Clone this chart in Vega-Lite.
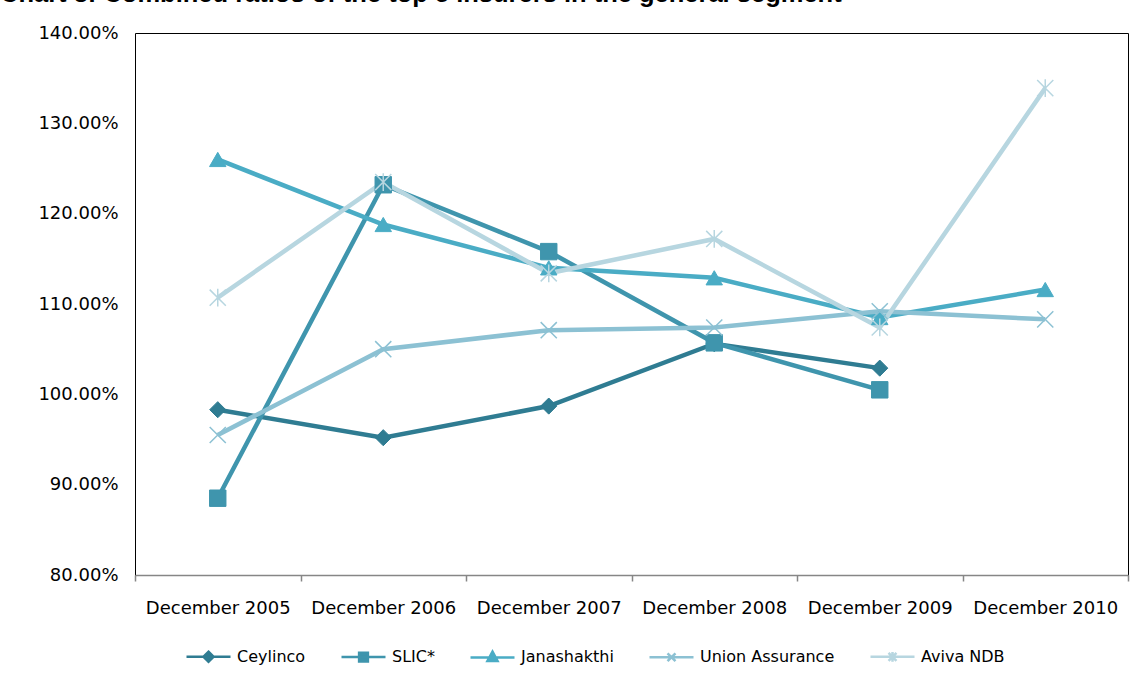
{
  "$schema": "https://vega.github.io/schema/vega-lite/v6.json",
  "width": 993,
  "height": 542,
  "autosize": {"type": "none"},
  "padding": {"left": 135, "top": 33, "right": 16, "bottom": 104},
  "background": "#ffffff",
  "title": {
    "text": "Chart 3: Combined ratios of the top 5 insurers in the general segment",
    "font": "Liberation Sans",
    "fontSize": 25.5,
    "fontWeight": "bold",
    "color": "#000000",
    "anchor": "start",
    "frame": "group",
    "dx": -135,
    "dy": 23,
    "baseline": "alphabetic",
    "offset": 20
  },
  "config": {
    "view": {"stroke": "#000000", "strokeWidth": 1}
  },
  "data": {
    "values": [
      {"year": "December 2005", "series": "Ceylinco", "value": 98.3},
      {"year": "December 2006", "series": "Ceylinco", "value": 95.2},
      {"year": "December 2007", "series": "Ceylinco", "value": 98.7},
      {"year": "December 2008", "series": "Ceylinco", "value": 105.6},
      {"year": "December 2009", "series": "Ceylinco", "value": 102.9},
      {"year": "December 2005", "series": "SLIC*", "value": 88.5},
      {"year": "December 2006", "series": "SLIC*", "value": 123.2},
      {"year": "December 2007", "series": "SLIC*", "value": 115.8},
      {"year": "December 2008", "series": "SLIC*", "value": 105.7},
      {"year": "December 2009", "series": "SLIC*", "value": 100.5},
      {"year": "December 2005", "series": "Janashakthi", "value": 126.0},
      {"year": "December 2006", "series": "Janashakthi", "value": 118.8},
      {"year": "December 2007", "series": "Janashakthi", "value": 114.0},
      {"year": "December 2008", "series": "Janashakthi", "value": 112.9},
      {"year": "December 2009", "series": "Janashakthi", "value": 108.5},
      {"year": "December 2010", "series": "Janashakthi", "value": 111.6},
      {"year": "December 2005", "series": "Union Assurance", "value": 95.5},
      {"year": "December 2006", "series": "Union Assurance", "value": 105.0},
      {"year": "December 2007", "series": "Union Assurance", "value": 107.1},
      {"year": "December 2008", "series": "Union Assurance", "value": 107.4},
      {"year": "December 2009", "series": "Union Assurance", "value": 109.2},
      {"year": "December 2010", "series": "Union Assurance", "value": 108.3},
      {"year": "December 2005", "series": "Aviva NDB", "value": 110.7},
      {"year": "December 2006", "series": "Aviva NDB", "value": 123.5},
      {"year": "December 2007", "series": "Aviva NDB", "value": 113.4},
      {"year": "December 2008", "series": "Aviva NDB", "value": 117.2},
      {"year": "December 2009", "series": "Aviva NDB", "value": 107.4},
      {"year": "December 2010", "series": "Aviva NDB", "value": 133.9}
    ]
  },
  "encoding": {
    "x": {
      "field": "year",
      "type": "nominal",
      "sort": null,
      "scale": {"type": "band", "paddingInner": 0, "paddingOuter": 0},
      "axis": {
        "title": null,
        "labelAngle": 0,
        "tickBand": "extent",
        "domainColor": "#868686",
        "domainWidth": 1.5,
        "tickColor": "#868686",
        "tickWidth": 1.5,
        "tickSize": 6,
        "labelPadding": 18,
        "labelFont": "DejaVu Sans",
        "labelFontSize": 18,
        "labelColor": "#000000",
        "grid": false
      }
    },
    "y": {
      "field": "value",
      "type": "quantitative",
      "scale": {"domain": [80, 140], "nice": false, "zero": false},
      "axis": {
        "title": null,
        "values": [80, 90, 100, 110, 120, 130, 140],
        "labelExpr": "format(datum.value, '.2f') + '%'",
        "ticks": false,
        "domain": false,
        "grid": false,
        "labelPadding": 17,
        "labelFont": "DejaVu Sans",
        "labelFontSize": 18,
        "labelColor": "#000000"
      }
    },
    "color": {
      "field": "series",
      "type": "nominal",
      "sort": null,
      "scale": {
        "domain": ["Ceylinco", "SLIC*", "Janashakthi", "Union Assurance", "Aviva NDB"],
        "range": ["#2f7c92", "#3f95ad", "#4aacc5", "#8cc1d3", "#b7d6e0"]
      },
      "legend": {
        "title": null,
        "orient": "none",
        "direction": "horizontal",
        "legendX": 50,
        "legendY": 600,
        "padding": 0,
        "symbolSize": 1936,
        "symbolStrokeWidth": 2.5,
        "labelFont": "DejaVu Sans",
        "labelFontSize": 16,
        "labelColor": "#000000",
        "labelOffset": 5,
        "columnPadding": 30,
        "encode": {
          "symbols": {
            "update": {
              "shape": {"signal": "datum.value === 'Ceylinco' ? 'M-1,0H1M0,-0.23L0.23,0L0,0.23L-0.23,0Z' : datum.value === 'SLIC*' ? 'M-1,0H1M-0.2,-0.2H0.2V0.2H-0.2Z' : datum.value === 'Janashakthi' ? 'M-1,0H1M0,-0.26L0.23,0.17H-0.23Z' : datum.value === 'Union Assurance' ? 'M-1,0H1M-0.18,-0.18L0.18,0.18M-0.18,0.18L0.18,-0.18' : 'M-1,0H1M-0.18,-0.18L0.18,0.18M-0.18,0.18L0.18,-0.18M0,-0.22V0.22'"},
              "fill": {"scale": "color", "field": "value"},
              "stroke": {"scale": "color", "field": "value"},
              "strokeWidth": {"value": 2.5},
              "opacity": {"value": 1}
            }
          }
        }
      }
    }
  },
  "layer": [
    {
      "mark": {"type": "line", "strokeWidth": 4.5}
    },
    {
      "transform": [{"filter": "datum.series === 'Ceylinco'"}],
      "mark": {"type": "point", "filled": true, "shape": "diamond", "size": 260, "stroke": "#2f7c92", "strokeWidth": 1, "opacity": 1}
    },
    {
      "transform": [{"filter": "datum.series === 'SLIC*'"}],
      "mark": {"type": "point", "filled": true, "shape": "square", "size": 270, "stroke": "#3f95ad", "strokeWidth": 1, "opacity": 1}
    },
    {
      "transform": [{"filter": "datum.series === 'Janashakthi'"}],
      "mark": {"type": "point", "filled": true, "shape": "triangle-up", "size": 270, "stroke": "#4aacc5", "strokeWidth": 1, "opacity": 1}
    },
    {
      "transform": [{"filter": "datum.series === 'Union Assurance'"}],
      "mark": {"type": "point", "filled": true, "shape": "M-1,-1L1,1M-1,1L1,-1", "size": 260, "stroke": "#8cc1d3", "strokeWidth": 1.5, "opacity": 1}
    },
    {
      "transform": [{"filter": "datum.series === 'Aviva NDB'"}],
      "mark": {"type": "point", "filled": true, "shape": "M-1,-1L1,1M-1,1L1,-1M0,-1.1V1.1", "size": 260, "stroke": "#b7d6e0", "strokeWidth": 1.5, "opacity": 1}
    }
  ]
}
